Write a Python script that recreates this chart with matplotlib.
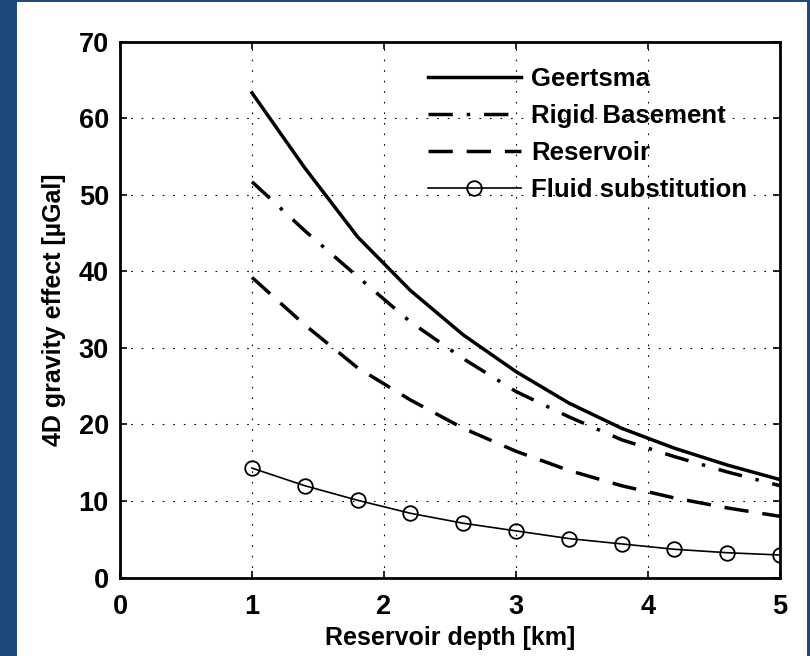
import matplotlib
matplotlib.use("Agg")
import matplotlib.pyplot as plt
from matplotlib.patches import Rectangle

plt.rcParams['font.family'] = ['Liberation Sans', 'DejaVu Sans']
plt.rcParams['font.weight'] = 'bold'

# reservoir depth [km]
depth = [1.0, 1.4, 1.8, 2.2, 2.6, 3.0, 3.4, 3.8, 4.2, 4.6, 5.0]

# 4D gravity effect [uGal]
geertsma = [63.3, 53.5, 44.5, 37.5, 31.7, 26.9, 22.8, 19.5, 16.9, 14.7, 12.8]
rigid_basement = [51.7, 45.3, 39.3, 33.4, 28.6, 24.3, 21.0, 18.0, 15.8, 13.8, 12.0]
reservoir = [39.2, 33.0, 27.4, 23.2, 19.5, 16.5, 14.0, 12.0, 10.4, 9.1, 8.0]
fluid_sub = [14.3, 12.0, 10.1, 8.4, 7.1, 6.1, 5.1, 4.4, 3.7, 3.25, 2.95]

fig = plt.figure(figsize=(8.1, 6.56), dpi=100)
fig.patch.set_facecolor('#1f497d')
# white panel on top of the blue background
fig.patches.append(Rectangle((17 / 810, 0), (807 - 17) / 810, (656 - 2) / 656,
                             transform=fig.transFigure, facecolor='white',
                             edgecolor='none', zorder=-10))

ax = fig.add_axes([120 / 810, 1 - 577.6 / 656, 660 / 810, 536 / 656])
ax.set_zorder(1)

ax.plot(depth, geertsma, color='black', lw=2.5, label='Geertsma')
ax.plot(depth, rigid_basement, color='black', lw=2.5, dashes=(7, 4, 1, 4),
        label='Rigid Basement')
ax.plot(depth, reservoir, color='black', lw=2.5, dashes=(7, 4),
        label='Reservoir')
ax.plot(depth, fluid_sub, color='black', lw=1.2, marker='o', ms=10.5,
        mfc='none', mec='black', mew=1.3, label='Fluid substitution')

ax.set_xlim(0, 5)
ax.set_ylim(0, 70)
ax.set_xticks(range(0, 6))
ax.set_yticks(range(0, 71, 10))
ax.tick_params(direction='in', length=5, width=1.2, top=True, right=True,
               labelsize=19.5, pad=8)
ax.tick_params(axis='x', pad=12)
for sp in ax.spines.values():
    sp.set_linewidth(2)
ax.grid(True, color='black', lw=0.8, linestyle=(0, (1.5, 8)))

ax.set_xlabel('Reservoir depth [km]', fontsize=18, fontweight='bold', labelpad=4)
ax.set_ylabel('4D gravity effect [\u00b5Gal]', fontsize=18, fontweight='bold',
              labelpad=9)

leg = ax.legend(loc='upper right', bbox_to_anchor=(0.985, 0.995), frameon=False,
                fontsize=18.5, handlelength=3.6, handletextpad=0.4,
                labelspacing=0.5, numpoints=1)

fig.savefig('out.png', dpi=100, facecolor=fig.get_facecolor())
